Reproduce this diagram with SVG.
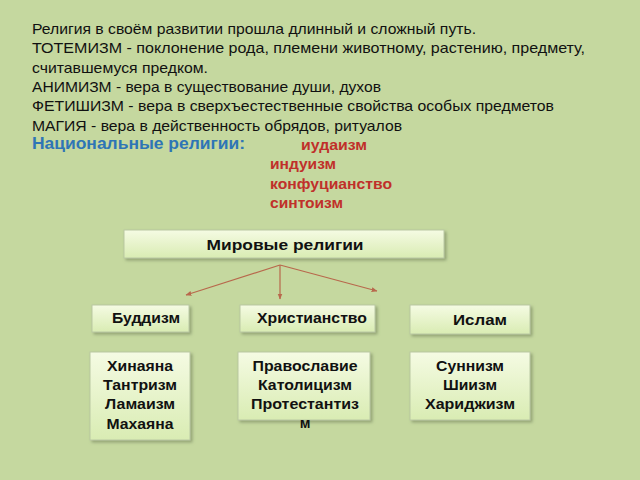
<svg xmlns="http://www.w3.org/2000/svg" width="640" height="480" viewBox="0 0 640 480">
<defs>
<linearGradient id="bg" x1="0" y1="0" x2="0" y2="1">
<stop offset="0" stop-color="#f5fbe3"/>
<stop offset="1" stop-color="#d9ecb3"/>
</linearGradient>
<filter id="sh" x="-10%" y="-20%" width="130%" height="150%">
<feDropShadow dx="2" dy="2" stdDeviation="1.5" flood-color="#6f7f58" flood-opacity="0.6"/>
</filter>
<marker id="ah" viewBox="0 0 10 10" refX="9" refY="5" markerWidth="5" markerHeight="5" orient="auto">
<path d="M0,1 L10,5 L0,9 z" fill="#b8684c"/>
</marker>
</defs>
<style>
.t{font-family:"Liberation Sans",Arial,sans-serif;font-size:14.5px;fill:#111}
.box{fill:url(#bg);stroke:#b9c8a2;stroke-width:1;filter:url(#sh)}
.b{font-family:"Liberation Sans",Arial,sans-serif;font-weight:bold;font-size:14.5px;fill:#111;text-anchor:middle}
.r{font-family:"Liberation Sans",Arial,sans-serif;font-weight:bold;font-size:14.5px;fill:#c0302a}
.c{stroke:#b8684c;stroke-width:1.2;fill:none;marker-end:url(#ah)}
</style>
<rect width="640" height="480" fill="#c5d89f"/>
<g id="intro">
<text class="t" x="32" y="34" textLength="444" lengthAdjust="spacingAndGlyphs">Религия в своём развитии прошла длинный и сложный путь.</text>
<text class="t" x="32" y="53" textLength="553" lengthAdjust="spacingAndGlyphs">ТОТЕМИЗМ - поклонение рода, племени животному, растению, предмету,</text>
<text class="t" x="32" y="73" textLength="176" lengthAdjust="spacingAndGlyphs">считавшемуся предком.</text>
<text class="t" x="32" y="92" textLength="349" lengthAdjust="spacingAndGlyphs">АНИМИЗМ - вера в существование души, духов</text>
<text class="t" x="32" y="111" textLength="522" lengthAdjust="spacingAndGlyphs">ФЕТИШИЗМ - вера в сверхъестественные свойства особых предметов</text>
<text class="t" x="32" y="131" textLength="370" lengthAdjust="spacingAndGlyphs">МАГИЯ - вера в действенность обрядов, ритуалов</text>
<text x="32" y="149" font-family="Liberation Sans,Arial,sans-serif" font-weight="bold" font-size="16" fill="#2e75b6" textLength="213" lengthAdjust="spacingAndGlyphs">Национальные религии:</text>
<text class="r" x="301" y="150" textLength="66" lengthAdjust="spacingAndGlyphs">иудаизм</text>
<text class="r" x="270" y="169" textLength="66" lengthAdjust="spacingAndGlyphs">индуизм</text>
<text class="r" x="270" y="189" textLength="122" lengthAdjust="spacingAndGlyphs">конфуцианство</text>
<text class="r" x="270" y="208" textLength="73" lengthAdjust="spacingAndGlyphs">синтоизм</text>
</g>
<g id="world">
<rect class="box" x="124" y="230" width="320" height="28"/>
<text class="b" x="285" y="250" font-size="15.5" textLength="157" lengthAdjust="spacingAndGlyphs">Мировые религии</text>
</g>
<g id="connectors">
<line class="c" x1="280" y1="265" x2="186" y2="295"/>
<line class="c" x1="280" y1="265" x2="280" y2="299"/>
<line class="c" x1="280" y1="265" x2="377" y2="291"/>
</g>
<g id="buddhism">
<rect class="box" x="92" y="305" width="97" height="27"/>
<text class="b" x="146" y="323" textLength="68" lengthAdjust="spacingAndGlyphs">Буддизм</text>
</g>
<g id="christianity">
<rect class="box" x="240" y="305" width="135" height="27"/>
<text class="b" x="312" y="323" textLength="110" lengthAdjust="spacingAndGlyphs">Христианство</text>
</g>
<g id="islam">
<rect class="box" x="410" y="305" width="120" height="29"/>
<text class="b" x="480" y="325" font-size="17" textLength="54" lengthAdjust="spacingAndGlyphs">Ислам</text>
</g>
<g id="buddhism-branches">
<rect class="box" x="90" y="352" width="100" height="88"/>
<text class="b" x="140" y="371" textLength="66" lengthAdjust="spacingAndGlyphs">Хинаяна</text>
<text class="b" x="140" y="390" textLength="74" lengthAdjust="spacingAndGlyphs">Тантризм</text>
<text class="b" x="140" y="409" textLength="70" lengthAdjust="spacingAndGlyphs">Ламаизм</text>
<text class="b" x="140" y="429" textLength="67" lengthAdjust="spacingAndGlyphs">Махаяна</text>
</g>
<g id="christianity-branches">
<rect class="box" x="238" y="352" width="132" height="68"/>
<text class="b" x="305" y="371" textLength="105" lengthAdjust="spacingAndGlyphs">Православие</text>
<text class="b" x="305" y="390" textLength="94" lengthAdjust="spacingAndGlyphs">Католицизм</text>
<text class="b" x="305" y="409" textLength="108" lengthAdjust="spacingAndGlyphs">Протестантиз</text>
<text class="b" x="305" y="428">м</text>
</g>
<g id="islam-branches">
<rect class="box" x="410" y="352" width="120" height="68"/>
<text class="b" x="470" y="371" textLength="68" lengthAdjust="spacingAndGlyphs">Суннизм</text>
<text class="b" x="470" y="390" textLength="54" lengthAdjust="spacingAndGlyphs">Шиизм</text>
<text class="b" x="470" y="409" textLength="90" lengthAdjust="spacingAndGlyphs">Хариджизм</text>
</g>
</svg>
